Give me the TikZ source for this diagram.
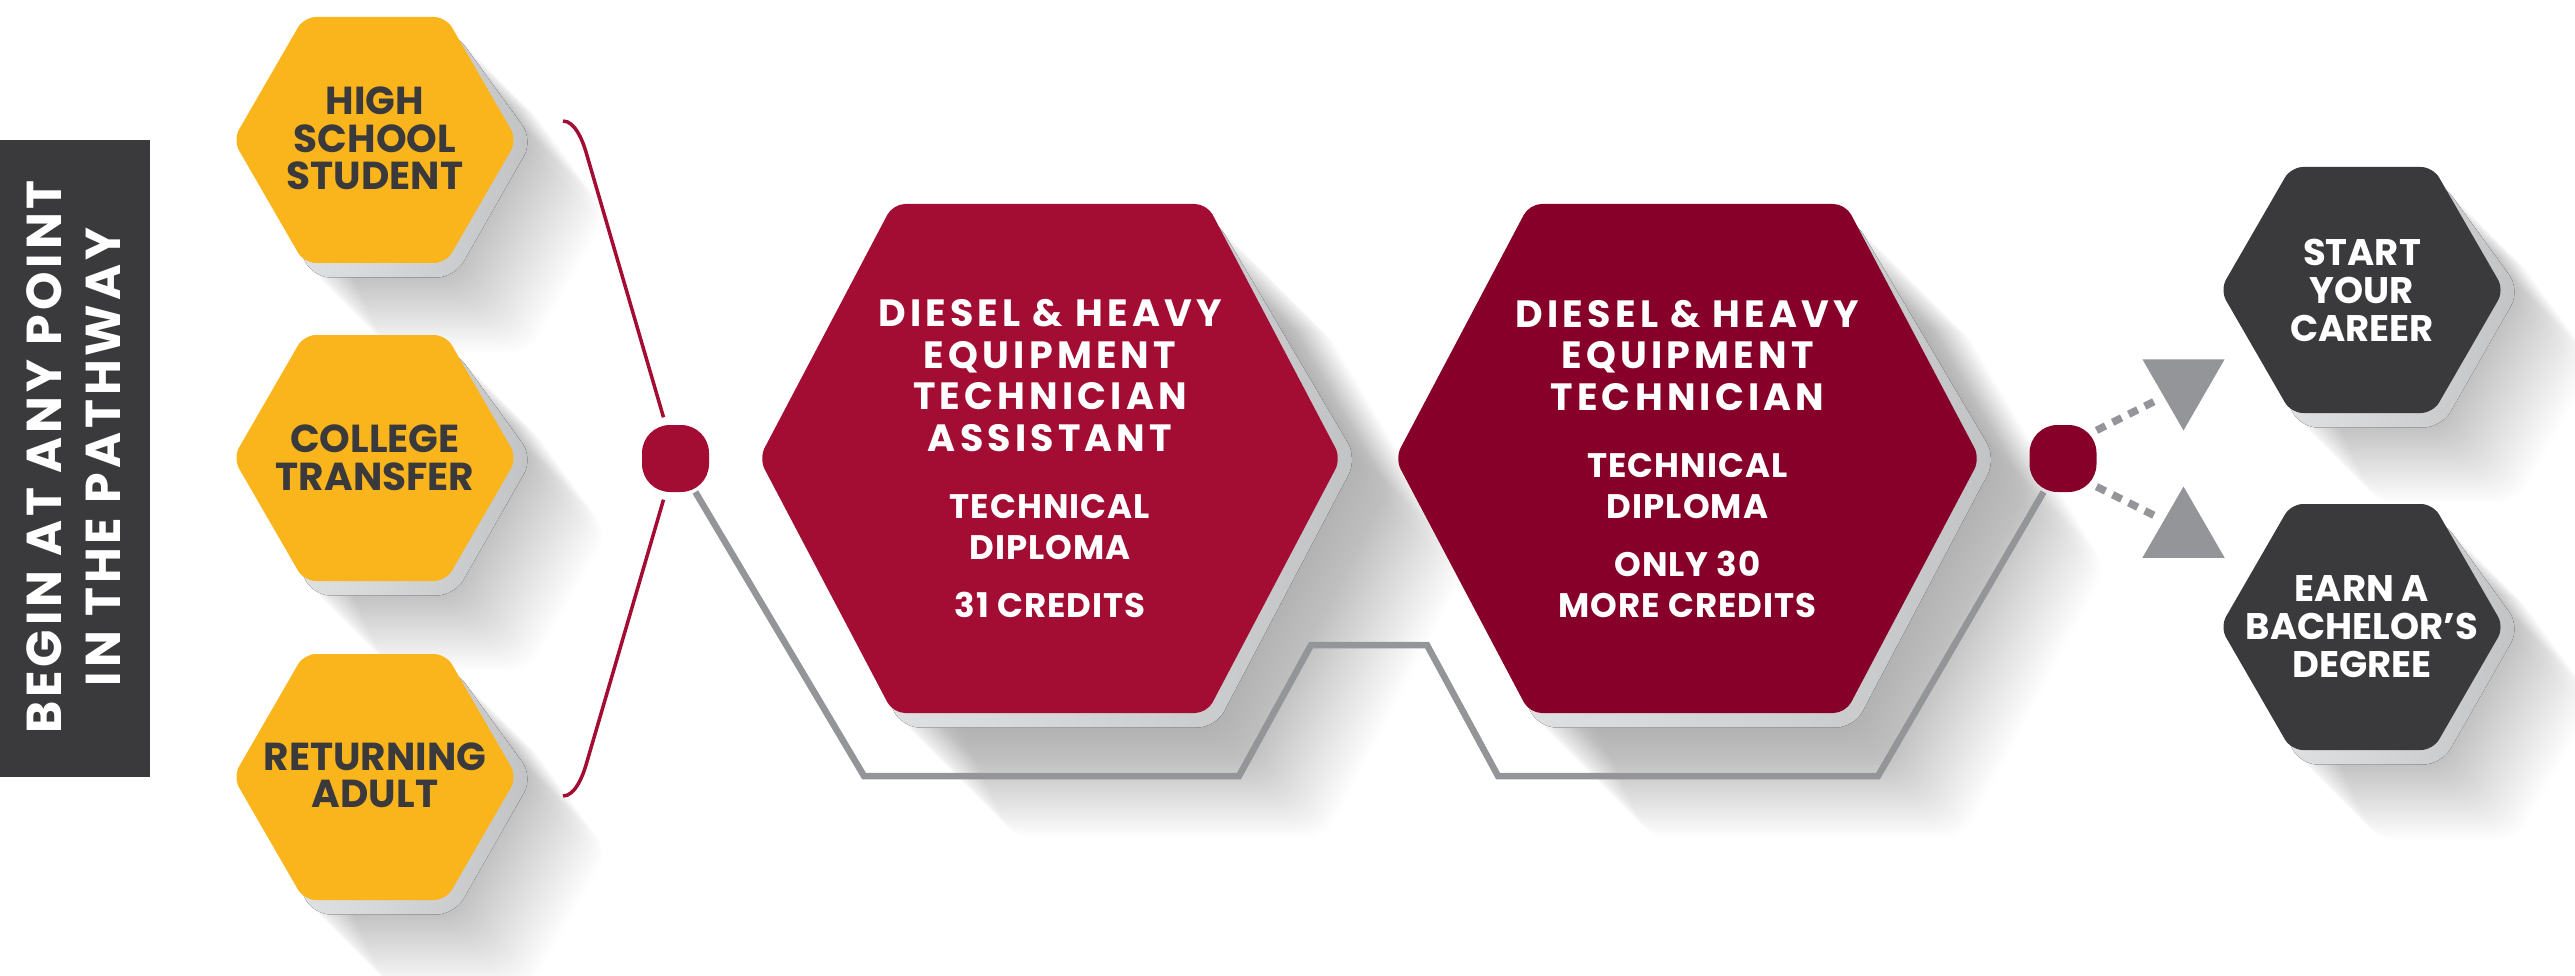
\documentclass[tikz,border=0pt]{standalone}
\usepackage{fontspec}
\setmainfont{Poppins}
\newfontfamily\widefont{Poppins}[LetterSpace=11]
\newfontfamily\infofont{Poppins}[LetterSpace=3]
\newfontfamily\sidefont{Poppins}[LetterSpace=8]
\usetikzlibrary{shapes.geometric,positioning}
\definecolor{hexYellow}{HTML}{FBB51C}
\definecolor{hexRed}{HTML}{A30D33}
\definecolor{hexWine}{HTML}{86002A}
\definecolor{hexDark}{HTML}{3A3A3C}
\definecolor{lineGrey}{HTML}{939598}
\definecolor{ringLight}{HTML}{E6E7E8}
\definecolor{ringDark}{HTML}{C2C3C5}
% outline of a hexagon: centre x, centre y, half width, half top edge, half height
\newcommand\hexoutline[5]{(#1+#3,#2) -- (#1+#4,#2+#5) -- (#1-#4,#2+#5) -- (#1-#3,#2) -- (#1-#4,#2-#5) -- (#1+#4,#2-#5) -- cycle}
% shadow, grey ring and face of one hexagon
\newcommand\hexbox[8]{%
  \foreach \k in {1,...,#7} {\fill[black,opacity=#8,rounded corners=18pt,shift={(2.5*\k,2.5*\k)}] \hexoutline{#1}{#2}{#3+16}{#4+8.5}{#5+14.5};}
  \fill[ring,rounded corners=18pt] \hexoutline{#1}{#2}{#3+16}{#4+8.5}{#5+14.5};
  \fill[#6,rounded corners=12pt] \hexoutline{#1}{#2}{#3}{#4}{#5};
}
\tikzset{
  ring/.style={left color=ringLight,right color=ringDark},
  yellowlabel/.style={text=hexDark,align=center,font=\bfseries\fontsize{39}{37.5}\selectfont},
  darklabel/.style={text=white,align=center,font=\bfseries\fontsize{37}{38}\selectfont},
  titlelabel/.style={text=white,align=center,font=\widefont\bfseries\fontsize{38}{41.5}\selectfont},
  infolabel/.style={text=white,align=center,font=\infofont\bfseries\fontsize{34}{41}\selectfont},
  sidelabel/.style={text=white,align=center,rotate=90,font=\sidefont\bfseries\fontsize{49}{59}\selectfont},
  dotbox/.style={rectangle,rounded corners=28pt,minimum size=67pt,inner sep=0pt,outer sep=0pt},
  arrowtri/.style={regular polygon,regular polygon sides=3,minimum size=95pt,inner sep=0pt,outer sep=0pt,fill=lineGrey},
  pathline/.style={lineGrey,line width=6.5pt},
  bracketline/.style={hexRed,line width=3.5pt},
  dashline/.style={lineGrey,line width=7.5pt,dash pattern=on 10pt off 8pt},
}
\begin{document}
\begin{tikzpicture}[x=1pt,y=-1pt]
\useasboundingbox (0,0) rectangle (2575,976);
% side panel
\fill[hexDark] (0,140) rectangle (150,777);
\node[sidelabel] (beginTxt) at (74,457) {BEGIN AT ANY POINT\\IN THE PATHWAY};
% starting points
\hexbox{375}{140}{142}{71}{123}{hexYellow}{30}{0.008}
\node[yellowlabel] (highSchool) at (375,138.5) {HIGH\\SCHOOL\\STUDENT};
\hexbox{375}{458}{142}{71}{123}{hexYellow}{30}{0.008}
\node[yellowlabel] (transfer) at (375,458) {COLLEGE\\TRANSFER};
\hexbox{375}{777}{142}{71}{123}{hexYellow}{30}{0.008}
\node[yellowlabel] (returning) at (375,775.5) {RETURNING\\ADULT};
% diplomas
\hexbox{1050}{458.5}{291}{157}{254.5}{hexRed}{44}{0.007}
\node[titlelabel] (assistTitle) at (1050,375.5) {DIESEL \& HEAVY\\EQUIPMENT\\TECHNICIAN\\ASSISTANT};
\node[infolabel] (assistInfo) at (1050,556) {TECHNICAL\\DIPLOMA\\[17pt]31 CREDITS};
\hexbox{1687.5}{458.5}{292.5}{158}{254.5}{hexWine}{44}{0.007}
\node[titlelabel] (techTitle) at (1687.5,355) {DIESEL \& HEAVY\\EQUIPMENT\\TECHNICIAN};
\node[infolabel] (techInfo) at (1687.5,535.5) {TECHNICAL\\DIPLOMA\\[17pt]ONLY 30\\MORE CREDITS};
% outcomes
\hexbox{2362}{290}{142}{71}{123}{hexDark}{30}{0.008}
\node[darklabel] (career) at (2362,290) {START\\YOUR\\CAREER};
\hexbox{2362}{627}{142}{71}{123}{hexDark}{30}{0.008}
\node[darklabel] (bachelor) at (2362,626.5) {EARN A\\BACHELOR’S\\DEGREE};
% junctions
\node[dotbox,fill=hexRed] (dotL) at (675.5,458.5) {};
\node[dotbox,fill=hexWine] (dotR) at (2063,458.5) {};
\node[arrowtri,shape border rotate=180] (triTop) at (2183.5,383) {};
\node[arrowtri] (triBottom) at (2183.5,534) {};
% brackets
\coordinate (brTop) at (563,121);
\coordinate (brBottom) at (563,796);
\draw[bracketline,shorten >=8pt] (brTop) .. controls (575,121) and (582.6,140.5) .. (586,152) -- (dotL);
\draw[bracketline,shorten >=8pt] (brBottom) .. controls (575,796) and (582.6,776.5) .. (586,765) -- (dotL);
% grey path under the diplomas
\coordinate (p1) at (864,776);
\coordinate (p2) at (1239,776);
\coordinate (p3) at (1311,645);
\coordinate (p4) at (1427,645);
\coordinate (p5) at (1498,776);
\coordinate (p6) at (1878,776);
\draw[pathline] (dotL) -- (p1) -- (p2) -- (p3) -- (p4) -- (p5) -- (p6) -- (dotR);
% dashed links to the outcomes
\draw[dashline,shorten >=8pt] (dotR.40) -- (triTop.215);
\draw[dashline,shorten >=8pt] (dotR.-40) -- (triBottom.145);
\end{tikzpicture}
\end{document}
